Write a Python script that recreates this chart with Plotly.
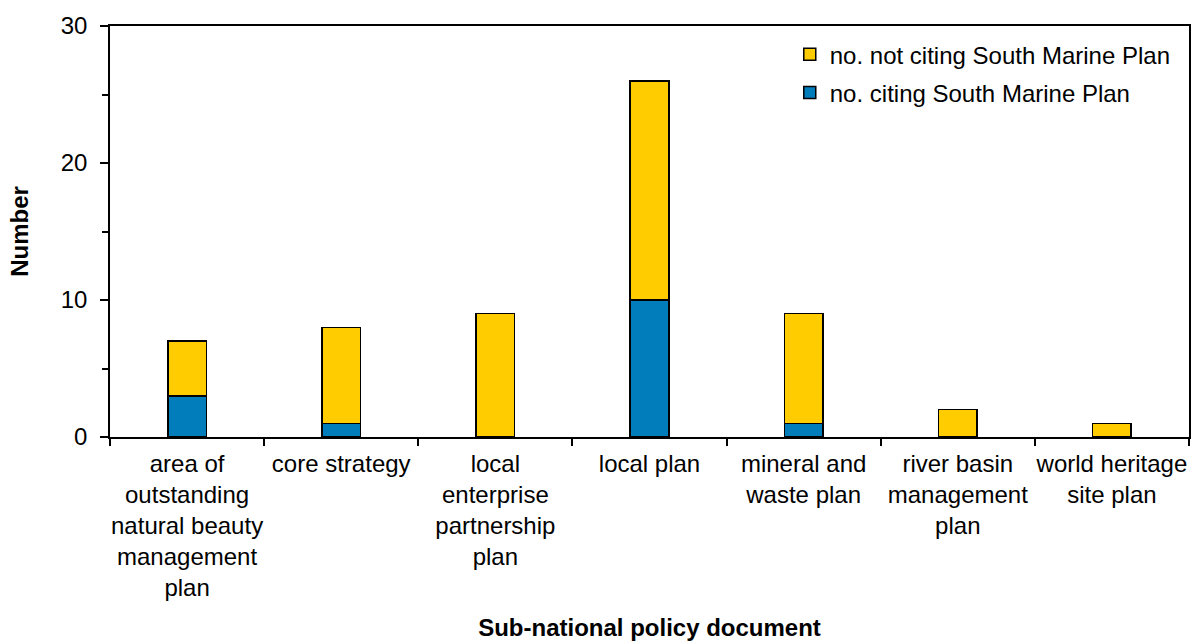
import plotly.graph_objects as go

categories = [
    "area of<br>outstanding<br>natural beauty<br>management<br>plan",
    "core strategy",
    "local<br>enterprise<br>partnership<br>plan",
    "local plan",
    "mineral and<br>waste plan",
    "river basin<br>management<br>plan",
    "world heritage<br>site plan",
]
citing = [3, 1, 0, 10, 1, 0, 0]
not_citing = [4, 7, 9, 16, 8, 2, 1]

FONT = "Liberation Sans, Arial, sans-serif"

fig = go.Figure()
fig.add_trace(go.Bar(
    x=categories, y=citing, name="no. citing South Marine Plan",
    marker=dict(color="#007DBA", line=dict(color="black", width=1.5)),
    width=0.25, legendgroup="a", legendrank=2,
))
fig.add_trace(go.Bar(
    x=categories, y=not_citing, name="no. not citing South Marine Plan",
    marker=dict(color="#FFCC00", line=dict(color="black", width=1.5)),
    width=0.25, legendgroup="b", legendrank=1,
))

fig.update_layout(
    barmode="stack",
    width=1193, height=641,
    margin=dict(l=110, r=4, t=26, b=204, autoexpand=False),
    paper_bgcolor="white", plot_bgcolor="white",
    font=dict(family=FONT, size=24, color="black"),
    showlegend=True,
    legend=dict(
        x=0.63, xanchor="left", y=0.985, yanchor="top",
        traceorder="grouped", tracegroupgap=4,
        font=dict(size=24, family=FONT, color="black"),
        bgcolor="rgba(0,0,0,0)",
    ),
    xaxis=dict(
        type="category",
        tickson="boundaries",
        tickangle=0,
        ticks="outside", ticklen=7, tickwidth=1.5, tickcolor="black",
        showline=True, linecolor="black", linewidth=1.5, mirror=True,
        showgrid=False, automargin=False,
        ticklabelstandoff=4,
        tickfont=dict(size=24, family=FONT, color="black"),
        title=dict(text="<b>Sub-national policy document</b>",
                   font=dict(size=24, family=FONT, color="black"), standoff=30),
    ),
    yaxis=dict(
        range=[0, 30], tick0=0, dtick=10,
        ticks="outside", ticklen=8, tickwidth=1.5, tickcolor="black",
        minor=dict(dtick=5, ticks="outside", ticklen=6, tickwidth=1.5, tickcolor="black"),
        showline=True, linecolor="black", linewidth=1.5, mirror=True,
        showgrid=False, zeroline=False, automargin=False,
        ticklabelstandoff=8,
        tickfont=dict(size=24, family=FONT, color="black"),
        title=dict(text="<b>Number</b>",
                   font=dict(size=24, family=FONT, color="black"), standoff=25),
    ),
)

fig.write_html("out.html")
